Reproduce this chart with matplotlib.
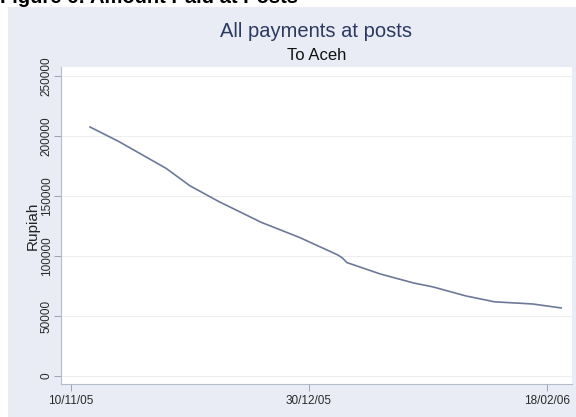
import matplotlib
matplotlib.use("Agg")
import matplotlib.pyplot as plt
import matplotlib.dates as mdates
import pandas as pd

plt.rcParams['font.family'] = ['Liberation Sans', 'DejaVu Sans']

# daily amount paid at posts
dates = ["2005-11-14", "2005-11-20", "2005-11-30", "2005-12-05", "2005-12-11",
         "2005-12-20", "2005-12-28", "2006-01-05", "2006-01-06", "2006-01-07",
         "2006-01-14", "2006-01-21", "2006-01-25", "2006-02-01", "2006-02-07",
         "2006-02-15", "2006-02-21"]
rupiah = [207500, 195500, 173000, 158500, 145500,
          128000, 115500, 101000, 98500, 94500,
          85000, 77500, 74300, 66700, 61800,
          60000, 56700]
x_ticks = ["2005-11-10", "2005-12-30", "2006-02-18"]
y_ticks = [0, 50000, 100000, 150000, 200000, 250000]

bg = "#e9ecf5"
ink = "#2a2a2a"

fig = plt.figure(figsize=(5.76, 4.17), dpi=100)
# grey graph region, leaving white strip at top-left as in the scan
fig.patches.append(plt.Rectangle((8 / 576, 0), 1, 1 - 7 / 417, transform=fig.transFigure,
                                 facecolor=bg, edgecolor="none", zorder=-5))

ax = fig.add_axes([61 / 576, 1 - 384 / 417, 511 / 576, 317 / 417])
ax.set_zorder(2)
ax.set_facecolor("white")

d = pd.to_datetime(dates)
ax.plot(d, rupiah, color="#6e7899", lw=1.2)

t0 = pd.Timestamp("2005-11-10")
ax.set_xlim(t0 - pd.Timedelta(days=2.1), t0 + pd.Timedelta(days=105.3))
ax.set_ylim(-6700, 257500)

ax.set_xticks(pd.to_datetime(x_ticks))
ax.xaxis.set_major_formatter(mdates.DateFormatter("%d/%m/%y"))
ax.set_yticks(y_ticks)
ax.set_yticklabels([str(v) for v in y_ticks], rotation=90, va="center")

ax.grid(axis="y", color="#eeeeee", lw=0.8)
ax.set_axisbelow(True)
for s in ["top", "right"]:
    ax.spines[s].set_visible(False)
for s in ["left", "bottom"]:
    ax.spines[s].set_color("#b4bccb")
    ax.spines[s].set_linewidth(0.8)
ax.tick_params(axis="both", colors="#9aa2b4", labelcolor=ink, labelsize=8.5, length=5, width=0.7)
ax.tick_params(axis="x", pad=3)
ax.tick_params(axis="y", pad=1)

ax.set_ylabel("Rupiah", fontsize=11, color="#222222", labelpad=1)

cx = (61 + 572) / 2 / 576
fig.text(cx, 1 - 37 / 417, "All payments at posts", ha="center", va="baseline",
         fontsize=14.5, color="#2c3a62", zorder=3)
fig.text(cx, 1 - 60 / 417, "To Aceh", ha="center", va="baseline",
         fontsize=12, color="#111111", zorder=3)
# figure caption cut off by the top edge
fig.text(0.0, 1 - 3 / 417, "Figure 6: Amount Paid at Posts", ha="left", va="baseline",
         fontsize=14.5, fontweight="bold", color="black", zorder=3)

fig.savefig("out.png", dpi=100)
